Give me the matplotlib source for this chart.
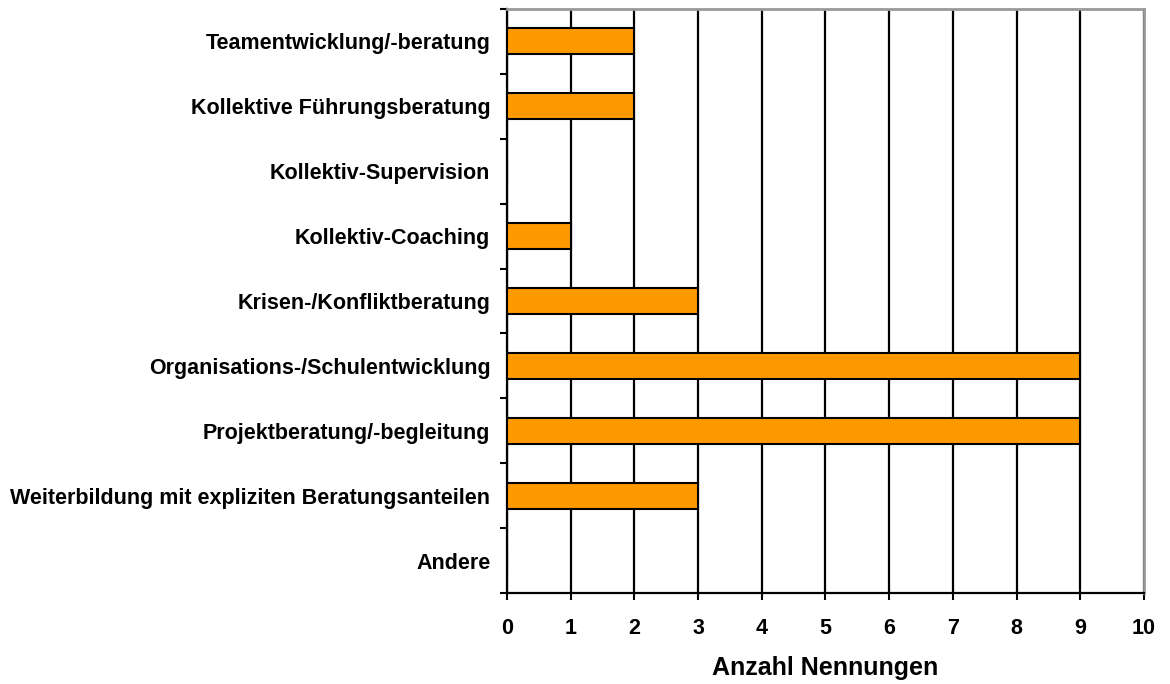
import matplotlib.pyplot as plt
import numpy as np

categories = [
    "Teamentwicklung/-beratung",
    "Kollektive Führungsberatung",
    "Kollektiv-Supervision",
    "Kollektiv-Coaching",
    "Krisen-/Konfliktberatung",
    "Organisations-/Schulentwicklung",
    "Projektberatung/-begleitung",
    "Weiterbildung mit expliziten Beratungsanteilen",
    "Andere",
]
counts = [2, 2, 0, 1, 3, 9, 9, 3, 0]
x_ticks = list(range(0, 11))

plt.rcParams['font.family'] = ['Liberation Sans', 'DejaVu Sans']
plt.rcParams['font.weight'] = 'bold'

fig = plt.figure(figsize=(11.7, 6.84), dpi=100)
ax = fig.add_axes([0.4333, 0.1330, 0.9778 - 0.4333, 0.9868 - 0.1330])

ypos = np.arange(len(categories))
ax.barh(ypos, counts, height=0.4, color='#FF9900', edgecolor='black',
        linewidth=1.5, zorder=3)

ax.set_xlim(0, 10)
ax.set_ylim(len(categories) - 0.5, -0.5)
ax.set_xticks(x_ticks)
ax.set_xticklabels([str(t) for t in x_ticks], fontsize=15.5, fontweight='bold')
ax.set_yticks(ypos)
ax.set_yticklabels(categories, fontsize=15.5, fontweight='bold')
ax.set_yticks(np.arange(len(categories) + 1) - 0.5, minor=True)

ax.tick_params(axis='y', which='major', length=0, pad=12)
ax.tick_params(axis='y', which='minor', length=5, width=1.5, direction='out')
ax.tick_params(axis='x', length=5, width=1.5, direction='out', pad=13)

ax.xaxis.grid(True, color='black', linewidth=1.6, zorder=1)
ax.set_axisbelow(True)

for side in ['left', 'bottom']:
    ax.spines[side].set_color('black')
    ax.spines[side].set_linewidth(1.6)
for side in ['top', 'right']:
    ax.spines[side].set_color('#999999')
    ax.spines[side].set_linewidth(2)

ax.set_xlabel('Anzahl Nennungen', fontsize=18, fontweight='bold', labelpad=12)

fig.savefig('out.png', dpi=100)
